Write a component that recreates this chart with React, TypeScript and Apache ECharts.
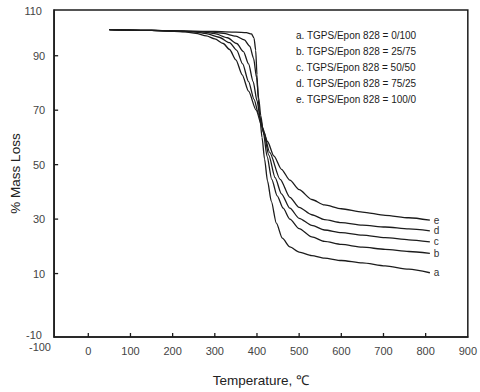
import React, { useEffect, useRef } from "react";
import * as echarts from "echarts";

// Thermogravimetric curves of TGPS / Epon 828 blends
const curveLetters = ["a", "b", "c", "d", "e"];
const blendLabels = [
  "a. TGPS/Epon 828 = 0/100",
  "b. TGPS/Epon 828 = 25/75",
  "c. TGPS/Epon 828 = 50/50",
  "d. TGPS/Epon 828 = 75/25",
  "e. TGPS/Epon 828 = 100/0",
];

const tempA = [50, 150, 300, 350, 375, 387, 393, 397, 400, 403, 407, 412, 418, 425, 434, 446, 460, 478, 500, 530, 560, 600, 650, 704, 760, 810];
const massA = [99.6, 99.3, 98.9, 98.7, 98.5, 98.0, 96.5, 92, 83, 74, 67, 60, 52, 44, 36.5, 28.5, 23, 19.8, 17.9, 16.6, 15.7, 14.8, 13.9, 12.8, 11.6, 10.3];

const tempB = [50, 150, 290, 320, 350, 370, 383, 392, 399, 404, 409, 415, 424, 435, 448, 462, 478, 500, 530, 560, 600, 650, 704, 760, 810];
const massB = [99.6, 99.3, 98.8, 98.2, 97.2, 95.8, 93.5, 89, 82, 74.5, 68, 62, 53, 44.6, 38.5, 34, 30, 26.5, 23.5, 21.8, 20.7, 19.7, 18.9, 18.1, 17.4];

const tempC = [50, 150, 270, 300, 330, 352, 368, 380, 391, 400, 408, 417, 428, 443, 458, 478, 500, 530, 560, 600, 650, 704, 760, 810];
const massC = [99.6, 99.3, 98.8, 98.1, 96.6, 94.5, 91.5, 87, 80.5, 73.5, 67, 61, 53.5, 45.2, 39.3, 34, 30.3, 27.7, 26, 25, 24.1, 23.2, 22.4, 21.6];

const tempD = [50, 150, 250, 280, 310, 335, 352, 366, 380, 393, 404, 416, 430, 455, 478, 500, 530, 560, 600, 650, 704, 760, 810];
const massD = [99.6, 99.3, 98.8, 98.1, 96.8, 94.8, 92, 87, 80.5, 74, 68.5, 62, 54.5, 44.6, 38, 34.3, 31.6, 29.8, 28.7, 27.8, 27.1, 26.4, 25.7];

const tempE = [50, 150, 230, 255, 280, 300, 320, 335, 350, 365, 380, 398, 412, 425, 440, 458, 478, 500, 530, 560, 600, 650, 704, 760, 810];
const massE = [99.6, 99.3, 98.8, 98.2, 97.3, 96.2, 94.5, 92.3, 88.5, 83, 77, 70, 64, 58.5, 53.2, 48.3, 44.3, 40.8, 37.2, 35.2, 33.8, 32.6, 31.4, 30.5, 29.6];

const temps = [tempA, tempB, tempC, tempD, tempE];
const masses = [massA, massB, massC, massD, massE];

const xTickValues = [0, 100, 200, 300, 400, 500, 600, 700, 800, 900];
const yTickValues = [10, 30, 50, 70, 90];
const cornerLabels = ["110", "-10", "-100"];

const xMin = -81;
const xMax = 900;
const yMin = -13.3;
const yMax = 106.8;

const axisFont = "Liberation Sans";
const ink = "#1c1c1c";
const tickLength = 4;

export default function App() {
  const ref = useRef<HTMLDivElement>(null);

  useEffect(() => {
    if (!ref.current) return;
    const chart = echarts.init(ref.current, undefined, { renderer: "svg" });

    const curves = curveLetters.map((letter, i) => ({
      type: "line",
      name: blendLabels[i],
      data: temps[i].map((t, j) => [t, masses[i][j]]),
      showSymbol: false,
      smooth: 0.25,
      smoothMonotone: "x",
      lineStyle: { color: ink, width: 1.3 },
      endLabel: {
        show: true,
        formatter: () => letter,
        color: "#333",
        fontSize: 10,
        fontFamily: axisFont,
        distance: 4,
      },
    }));

    const legendTexts = blendLabels.map((label, i) => ({
      type: "text",
      x: 296,
      y: 35 + i * 16,
      style: {
        text: label,
        fill: ink,
        font: `10px "${axisFont}"`,
        align: "left",
        verticalAlign: "middle",
      },
    }));

    const corner = [
      { text: cornerLabels[0], x: 42, y: 11 },
      { text: cornerLabels[1], x: 42, y: 335 },
      { text: cornerLabels[2], x: 51, y: 347 },
    ].map((c) => ({
      type: "text",
      x: c.x,
      y: c.y,
      style: {
        text: c.text,
        fill: "#444",
        font: `11px "${axisFont}"`,
        align: "right",
        verticalAlign: "middle",
      },
    }));

    const axisLine = { show: true, onZero: false, lineStyle: { color: ink, width: 1.5 } };

    chart.setOption({
      animation: false,
      backgroundColor: "#fff",
      grid: {
        left: 51,
        right: 10,
        top: 10,
        bottom: 54,
        show: true,
        borderColor: ink,
        borderWidth: 1.5,
      },
      xAxis: {
        type: "value",
        min: xMin,
        max: xMax,
        name: "Temperature, ℃",
        nameLocation: "middle",
        nameGap: 36,
        nameTextStyle: { fontFamily: axisFont, fontSize: 13.5, color: "#222" },
        axisLine,
        splitLine: { show: false },
        axisTick: { show: false },
        axisLabel: {
          customValues: xTickValues,
          margin: 8,
          fontFamily: axisFont,
          fontSize: 11,
          color: "#444",
        },
      },
      yAxis: {
        type: "value",
        min: yMin,
        max: yMax,
        name: "% Mass Loss",
        nameLocation: "middle",
        nameGap: 31,
        nameTextStyle: { fontFamily: axisFont, fontSize: 13.5, color: "#222" },
        axisLine,
        splitLine: { show: false },
        axisTick: { show: false },
        axisLabel: {
          customValues: yTickValues,
          margin: 9,
          fontFamily: axisFont,
          fontSize: 11,
          color: "#444",
        },
      },
      graphic: [...legendTexts, ...corner],
      series: curves,
    });

    // inward tick marks on the left and bottom frame, placed through the axis scales
    const tickLines: any[] = [];
    const toPx = (v: number[]) => chart.convertToPixel({ gridIndex: 0 }, v) as unknown as number[];
    yTickValues.forEach((v) => {
      const p = toPx([xMin, v]);
      if (p && isFinite(p[0]) && isFinite(p[1])) {
        tickLines.push({
          type: "line",
          z: 10,
          shape: { x1: p[0], y1: p[1], x2: p[0] + tickLength, y2: p[1] },
          style: { stroke: ink, lineWidth: 1.3 },
        });
      }
    });
    xTickValues
      .filter((v) => v < xMax)
      .forEach((v) => {
        const p = toPx([v, yMin]);
        if (p && isFinite(p[0]) && isFinite(p[1])) {
          tickLines.push({
            type: "line",
            z: 10,
            shape: { x1: p[0], y1: p[1], x2: p[0], y2: p[1] - tickLength },
            style: { stroke: ink, lineWidth: 1.3 },
          });
        }
      });
    chart.setOption({ graphic: [...legendTexts, ...corner, ...tickLines] });

    return () => chart.dispose();
  }, []);

  return (
    <div
      ref={ref}
      style={{ position: "fixed", left: 0, top: 0, width: 480, height: 392, background: "#fff" }}
    />
  );
}
